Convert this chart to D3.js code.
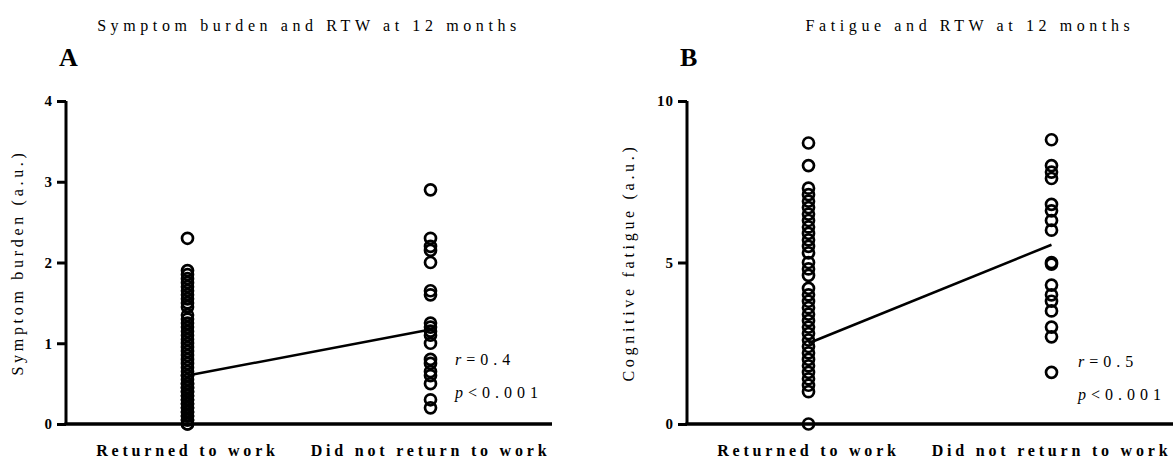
<!doctype html>
<html>
<head>
<meta charset="utf-8">
<style>
  body { margin: 0; background: white; }
  svg text { font-family: "Liberation Serif", "Times New Roman", serif; fill: black; }
  .axis path, .axis line { stroke: black; stroke-width: 3px; }
  .axis text { font-size: 15px; font-weight: bold; letter-spacing: 1px; }
  .cat { font-size: 16px; font-weight: bold; letter-spacing: 3.8px; }
  .title { font-size: 16px; letter-spacing: 4.6px; }
  .ylab { font-size: 16px; letter-spacing: 3.7px; }
  .panel { font-size: 26px; font-weight: bold; }
  .stat { font-size: 16px; letter-spacing: 5px; }
</style>
<script src="https://d3js.org/d3.v7.min.js"></script>
</head>
<body>
<script>
// categories shared by both panels
var groups = ['Returned to work', 'Did not return to work'];

// panel A: symptom burden (a.u.)
var symptomReturned = [2.3, 1.9, 1.85, 1.8, 1.75, 1.7, 1.65, 1.6, 1.55, 1.5, 1.45, 1.35, 1.3, 1.25, 1.2,
  1.15, 1.1, 1.05, 1.0, 0.95, 0.9, 0.85, 0.8, 0.75, 0.7, 0.65, 0.6, 0.6, 0.55, 0.5, 0.5, 0.45, 0.45,
  0.4, 0.4, 0.35, 0.35, 0.3, 0.3, 0.25, 0.25, 0.2, 0.2, 0.15, 0.15, 0.1, 0.1, 0.05, 0.05, 0.0, 0.0];
var symptomNotReturned = [2.9, 2.3, 2.2, 2.15, 2.0, 1.65, 1.6, 1.25, 1.2, 1.15, 1.1, 1.0, 0.8, 0.75,
  0.65, 0.6, 0.5, 0.3, 0.2];
var symptomMeans = [0.6, 1.17];
var symptomTicks = [0, 1, 2, 3, 4];

// panel B: cognitive fatigue (a.u.)
var fatigueReturned = [8.7, 8.0, 7.3, 7.1, 6.9, 6.7, 6.5, 6.3, 6.1, 5.9, 5.7, 5.5, 5.3, 5.0, 4.8, 4.6,
  4.2, 4.0, 3.8, 3.6, 3.4, 3.2, 3.0, 2.8, 2.6, 2.4, 2.2, 2.0, 1.8, 1.6, 1.4, 1.2, 1.0, 0.0];
var fatigueNotReturned = [8.8, 8.0, 7.8, 7.6, 6.8, 6.6, 6.3, 6.0, 5.0, 4.95, 4.3, 4.0, 3.8, 3.5, 3.0,
  2.7, 1.6];
var fatigueMeans = [2.5, 5.55];
var fatigueTicks = [0, 5, 10];

var svg = d3.select('body').append('svg')
  .attr('width', 1173)
  .attr('height', 463);

function drawPanel(opt) {
  var g = svg.append('g');

  var x = d3.scalePoint().domain(groups).range([opt.left, opt.right]).padding(0.5);
  var y = d3.scaleLinear().domain([0, opt.max]).range([424, 101]);

  // y axis
  var yAxis = g.append('g')
    .attr('class', 'axis')
    .attr('transform', `translate(${opt.left}, 0)`)
    .call(d3.axisLeft(y).tickValues(opt.ticks).tickFormat(d3.format('d'))
      .tickSize(9).tickPadding(4).tickSizeOuter(0));
  yAxis.select('.domain').attr('d', `M0,${y(opt.max)}V${y(0)}`);

  // x axis (plain line, no ticks)
  g.append('line')
    .attr('x1', opt.left - 1.5).attr('x2', opt.right)
    .attr('y1', y(0)).attr('y2', y(0))
    .attr('stroke', 'black').attr('stroke-width', 3.5);

  // line between group means
  g.append('path')
    .datum(opt.means)
    .attr('fill', 'none')
    .attr('stroke', 'black')
    .attr('stroke-width', 2.5)
    .attr('d', d3.line().x((d, i) => x(groups[i])).y(d => y(d)));

  // points
  [opt.a, opt.b].forEach(function(vals, i) {
    g.selectAll(null)
      .data(vals)
      .enter().append('circle')
      .attr('cx', x(groups[i]))
      .attr('cy', d => y(d))
      .attr('r', 5.5)
      .attr('fill', 'none')
      .attr('stroke', 'black')
      .attr('stroke-width', 2.7);
  });

  // category labels
  g.selectAll('.cat')
    .data(groups)
    .enter().append('text')
    .attr('class', 'cat')
    .attr('text-anchor', 'middle')
    .attr('x', d => x(d))
    .attr('y', 456)
    .text(d => d);

  // title and panel letter
  g.append('text')
    .attr('class', 'title')
    .attr('text-anchor', 'middle')
    .attr('x', opt.titleX)
    .attr('y', 31)
    .text(opt.title);

  g.append('text')
    .attr('class', 'panel')
    .attr('x', opt.left - 7)
    .attr('y', 66)
    .text(opt.letter);

  // y label
  g.append('text')
    .attr('class', 'ylab')
    .attr('text-anchor', 'middle')
    .attr('transform', `translate(${opt.labelX}, ${(y(0) + y(opt.max)) / 2}) rotate(-90)`)
    .text(opt.ylabel);

  // statistics
  var st = g.append('text').attr('class', 'stat').attr('x', opt.statX).attr('y', opt.statY);
  st.append('tspan').style('font-style', 'italic').text('r');
  st.append('tspan').text('=' + opt.r);
  var sp = g.append('text').attr('class', 'stat').attr('x', opt.statX).attr('y', opt.statY + 33);
  sp.append('tspan').style('font-style', 'italic').text('p');
  sp.append('tspan').text('<0.001');
}

drawPanel({
  left: 66, right: 552, max: 4, ticks: symptomTicks,
  a: symptomReturned, b: symptomNotReturned, means: symptomMeans,
  title: 'Symptom burden and RTW at 12 months', titleX: 309, letter: 'A',
  ylabel: 'Symptom burden (a.u.)', labelX: 23,
  r: '0.4', statX: 455, statY: 365
});

drawPanel({
  left: 687, right: 1173, max: 10, ticks: fatigueTicks,
  a: fatigueReturned, b: fatigueNotReturned, means: fatigueMeans,
  title: 'Fatigue and RTW at 12 months', titleX: 970, letter: 'B',
  ylabel: 'Cognitive fatigue (a.u.)', labelX: 634,
  r: '0.5', statX: 1078, statY: 367
});
</script>
</body>
</html>
